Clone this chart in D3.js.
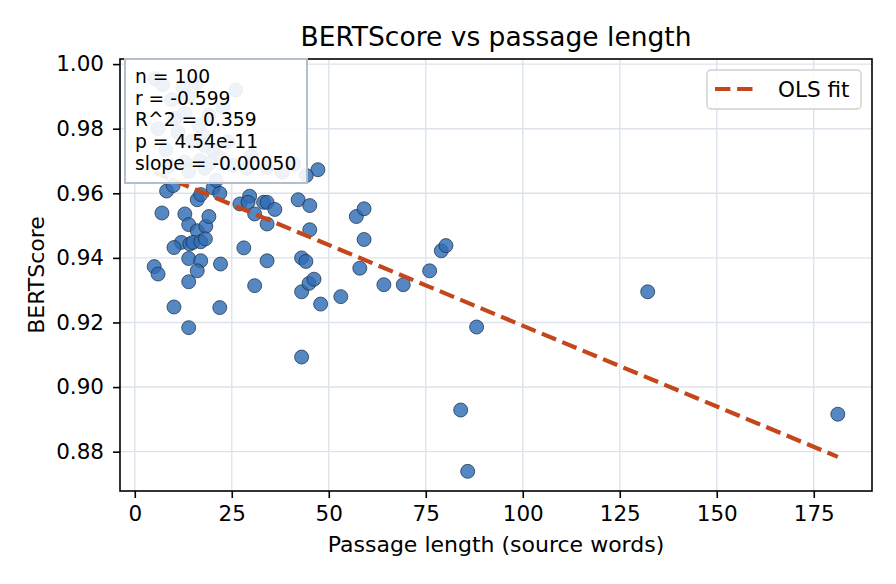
<!DOCTYPE html>
<html>
<head>
<meta charset="utf-8">
<script src="https://cdn.jsdelivr.net/npm/d3@7"></script>
<style>
  body { margin: 0; background: #fff; }
  svg { display: block; font-family: "DejaVu Sans", sans-serif; }
</style>
</head>
<body>
<svg id="chart" width="896" height="584"></svg>
<script>
// passage length (source words) per item
var passageWords = [
  8.2, 9.9, 7.0, 12.9, 13.9, 16.1, 18.3, 19.1, 16.1, 17.0,
  20.2, 21.9, 12.0, 10.1, 14.2, 15.0, 17.0, 18.2, 13.9, 17.0,
  16.1, 13.9, 22.1, 5.0, 6.0, 10.1, 21.9, 13.9, 28.1, 30.9,
  34.1, 27.1, 29.6, 29.2, 33.2, 34.1, 30.9, 34.1, 36.1, 42.1,
  45.1, 45.1, 43.0, 44.1, 43.0, 44.9, 46.2, 47.9, 53.1, 43.0,
  47.2, 44.2, 57.1, 59.1, 59.1, 58.0, 64.2, 69.2, 76.0, 79.0,
  80.2, 88.1, 84.0, 85.8, 132.2, 181.2,
  // partly hidden behind the stats box
  5.2, 7.2, 12.4, 16.0, 22.7, 12.9, 10.3, 11.1, 17.5, 20.1,
  21.9, 16.8, 12.9, 9.0, 19.3, 34.0, 28.9, 25.3, 19.1, 16.5,
  14.7, 18.0, 18.0, 13.9, 8.0, 6.0, 14.0, 24.0, 30.0, 38.0,
  26.0, 9.5, 41.0, 21.0
];

var bertScore = [
  0.9607, 0.9624, 0.9539, 0.9536, 0.9503, 0.9484, 0.9498, 0.9528, 0.9580, 0.9596,
  0.9617, 0.9600, 0.9448, 0.9432, 0.9443, 0.9448, 0.9450, 0.9459, 0.9398, 0.9391,
  0.9360, 0.9326, 0.9381, 0.9373, 0.9350, 0.9248, 0.9246, 0.9184, 0.9431, 0.9314,
  0.9391, 0.9567, 0.9591, 0.9572, 0.9572, 0.9572, 0.9536, 0.9505, 0.9550, 0.9580,
  0.9562, 0.9487, 0.9400, 0.9389, 0.9295, 0.9321, 0.9334, 0.9257, 0.9280, 0.9093,
  0.9673, 0.9655, 0.9528, 0.9552, 0.9457, 0.9368, 0.9317, 0.9317, 0.9360, 0.9422,
  0.9438, 0.9186, 0.8929, 0.8739, 0.9295, 0.8916,
  0.9955, 0.9935, 0.9929, 0.9941, 0.9866, 0.9848, 0.9832, 0.9789, 0.9780, 0.9733,
  0.9711, 0.9702, 0.9696, 0.9686, 0.9693, 0.9680, 0.9677, 0.9686, 0.9842, 0.9811,
  0.9761, 0.9748, 0.9677, 0.9668, 0.9735, 0.9800, 0.9900, 0.9760, 0.9715, 0.9665,
  0.9920, 0.9890, 0.9690, 0.9640
];

var xTicks = [0, 25, 50, 75, 100, 125, 150, 175];
var yTicks = [0.88, 0.90, 0.92, 0.94, 0.96, 0.98, 1.00];

var fitSlope = -0.00050;
var fitIntercept = 0.9690;

var statLines = ["n = 100", "r = -0.599", "R^2 = 0.359", "p = 4.54e-11", "slope = -0.00050"];

var svg = d3.select("#chart");
var plotL = 120, plotR = 872, plotT = 59, plotB = 491;

function padded(ext) {
    var p = (ext[1] - ext[0]) * 0.05;
    return [ext[0] - p, ext[1] + p];
}

var x = d3.scaleLinear().domain(padded(d3.extent(passageWords))).range([plotL, plotR]);
var y = d3.scaleLinear().domain(padded(d3.extent(bertScore))).range([plotB, plotT]);

var points = passageWords.map(function(d, i) { return {x: d, y: bertScore[i]}; });

// grid
var grid = svg.append("g");
grid.selectAll(".gx").data(xTicks).enter().append("line")
    .attr("x1", function(d) { return x(d); }).attr("x2", function(d) { return x(d); })
    .attr("y1", plotT).attr("y2", plotB)
    .attr("stroke", "#dde3ec").attr("stroke-width", 1.4);
grid.selectAll(".gy").data(yTicks).enter().append("line")
    .attr("y1", function(d) { return y(d); }).attr("y2", function(d) { return y(d); })
    .attr("x1", plotL).attr("x2", plotR)
    .attr("stroke", "#dde3ec").attr("stroke-width", 1.4);

// scatter
svg.append("g").selectAll("circle")
    .data(points)
    .enter().append("circle")
    .attr("cx", function(d) { return x(d.x); })
    .attr("cy", function(d) { return y(d.y); })
    .attr("r", 7)
    .attr("fill", "#2f6db5")
    .attr("fill-opacity", 0.82)
    .attr("stroke", "#1c2c44")
    .attr("stroke-opacity", 0.8)
    .attr("stroke-width", 0.9);

// OLS fit line
var xr = d3.extent(passageWords);
var fit = xr.map(function(v) { return {x: v, y: fitIntercept + fitSlope * v}; });
svg.append("path")
    .datum(fit)
    .attr("d", d3.line().x(function(d) { return x(d.x); }).y(function(d) { return y(d.y); }))
    .attr("fill", "none")
    .attr("stroke", "#c4461a")
    .attr("stroke-width", 4.2)
    .attr("stroke-dasharray", "15.4,6.7");

// axes
var xAxis = svg.append("g")
    .attr("transform", "translate(0," + plotB + ")")
    .call(d3.axisBottom(x).tickValues(xTicks).tickSize(7).tickPadding(8).tickFormat(d3.format("d")));
var yAxis = svg.append("g")
    .attr("transform", "translate(" + plotL + ",0)")
    .call(d3.axisLeft(y).tickValues(yTicks).tickSize(7).tickPadding(9).tickFormat(d3.format(".2f")));
[xAxis, yAxis].forEach(function(a) {
    a.selectAll("text").attr("font-size", 21.5).attr("fill", "#000").attr("font-family", "DejaVu Sans");
    a.selectAll("line").attr("stroke", "#000").attr("stroke-width", 1.6);
    a.select(".domain").remove();
});
svg.append("rect")
    .attr("x", plotL).attr("y", plotT).attr("width", plotR - plotL).attr("height", plotB - plotT)
    .attr("fill", "none").attr("stroke", "#000").attr("stroke-width", 1.6);

// stats box
var stats = svg.append("g");
stats.append("rect")
    .attr("x", 125).attr("y", 59).attr("width", 182).attr("height", 124)
    .attr("fill", "#fff").attr("fill-opacity", 0.9)
    .attr("stroke", "#b3bfcd").attr("stroke-width", 2);
stats.selectAll("text").data(statLines).enter().append("text")
    .attr("x", 135)
    .attr("y", function(d, i) { return 83 + i * 21.7; })
    .attr("font-size", 18.7)
    .attr("fill", "#000")
    .text(function(d) { return d; });

// legend
var legend = svg.append("g");
legend.append("rect")
    .attr("x", 707).attr("y", 70).attr("width", 154).attr("height", 39).attr("rx", 4)
    .attr("fill", "#fff").attr("fill-opacity", 0.85)
    .attr("stroke", "#d0d0d0").attr("stroke-width", 1.4);
legend.append("line")
    .attr("x1", 715).attr("x2", 755).attr("y1", 89).attr("y2", 89)
    .attr("stroke", "#c4461a").attr("stroke-width", 4.2).attr("stroke-dasharray", "15.4,6.7");
legend.append("text")
    .attr("x", 778).attr("y", 97).attr("font-size", 21.5)
    .text("OLS fit");

// titles
svg.append("text")
    .attr("x", (plotL + plotR) / 2).attr("y", 46)
    .attr("text-anchor", "middle").attr("font-size", 26.5)
    .text("BERTScore vs passage length");
svg.append("text")
    .attr("x", (plotL + plotR) / 2).attr("y", 552)
    .attr("text-anchor", "middle").attr("font-size", 22)
    .text("Passage length (source words)");
svg.append("text")
    .attr("transform", "translate(44," + ((plotT + plotB) / 2) + ")rotate(-90)")
    .attr("text-anchor", "middle").attr("font-size", 22)
    .text("BERTScore");
</script>
</body>
</html>
